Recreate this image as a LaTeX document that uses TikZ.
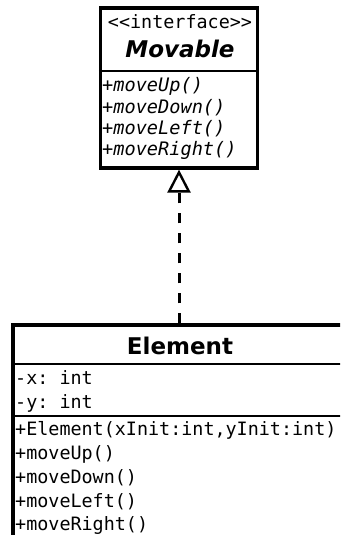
\documentclass[tikz,border=0pt]{standalone}
\usepackage{fontspec}
\setmainfont{DejaVu Sans}
\setsansfont{DejaVu Sans}
\setmonofont{DejaVu Sans Mono}
\usetikzlibrary{arrows.meta}
\tikzset{
  classbox/.style={draw=black, line width=3.2pt, inner sep=0pt},
  sepline/.style={draw=black, line width=2.4pt},
  member/.style={anchor=base west, inner sep=0pt, font=\fontsize{18.4}{20}\selectfont\ttfamily},
  opmember/.style={member, font=\fontsize{18.6}{20}\selectfont\ttfamily\itshape},
  stereo/.style={anchor=base, inner sep=0pt, font=\fontsize{18.4}{20}\selectfont\ttfamily},
  classtitle/.style={anchor=base, inner sep=0pt, font=\fontsize{23}{24}\selectfont\sffamily\bfseries},
  realizes/.style={draw=black, line width=3pt, dash pattern=on 10pt off 10pt,
    -{Triangle[open, length=23pt, width=23pt, line width=2.4pt]}},
}
\begin{document}
\begin{tikzpicture}[x=1pt, y=-1pt]
  \useasboundingbox (0,0) rectangle (340,535);
  \clip (0,0) rectangle (340,535);
  \fill[white] (0,0) rectangle (340,535);

  % interface Movable
  \node[classbox, minimum width=157pt, minimum height=160pt] (movable) at (179,88) {};
  \draw[sepline] (movable.west |- 0,71) -- (movable.east |- 0,71);
  \node[stereo] (mstereo) at (180,29) {<<interface>>};
  \node[classtitle, font=\fontsize{23}{24}\selectfont\sffamily\bfseries\itshape] (mtitle) at (180,57) {Movable};
  \node[opmember] (mop1) at (102,92) {+moveUp()};
  \node[opmember] (mop2) at (102,113) {+moveDown()};
  \node[opmember] (mop3) at (102,134) {+moveLeft()};
  \node[opmember] (mop4) at (102,155) {+moveRight()};

  % class Element
  \node[classbox, minimum width=337pt, minimum height=240pt] (element) at (181.5,445) {};
  \draw[sepline] (element.west |- 0,364) -- (element.east |- 0,364);
  \draw[sepline] (element.west |- 0,416) -- (element.east |- 0,416);
  \node[classtitle] (etitle) at (180,354) {Element};
  \node[member] (eattr1) at (15,384) {-x: int};
  \node[member] (eattr2) at (15,408) {-y: int};
  \node[member] (eop1) at (15,435) {+Element(xInit:int,yInit:int)};
  \node[member] (eop2) at (15,459) {+moveUp()};
  \node[member] (eop3) at (15,483) {+moveDown()};
  \node[member] (eop4) at (15,507) {+moveLeft()};
  \node[member] (eop5) at (15,530) {+moveRight()};

  % realization
  \draw[realizes] (element.north -| movable.south) -- (movable.south);
\end{tikzpicture}
\end{document}
